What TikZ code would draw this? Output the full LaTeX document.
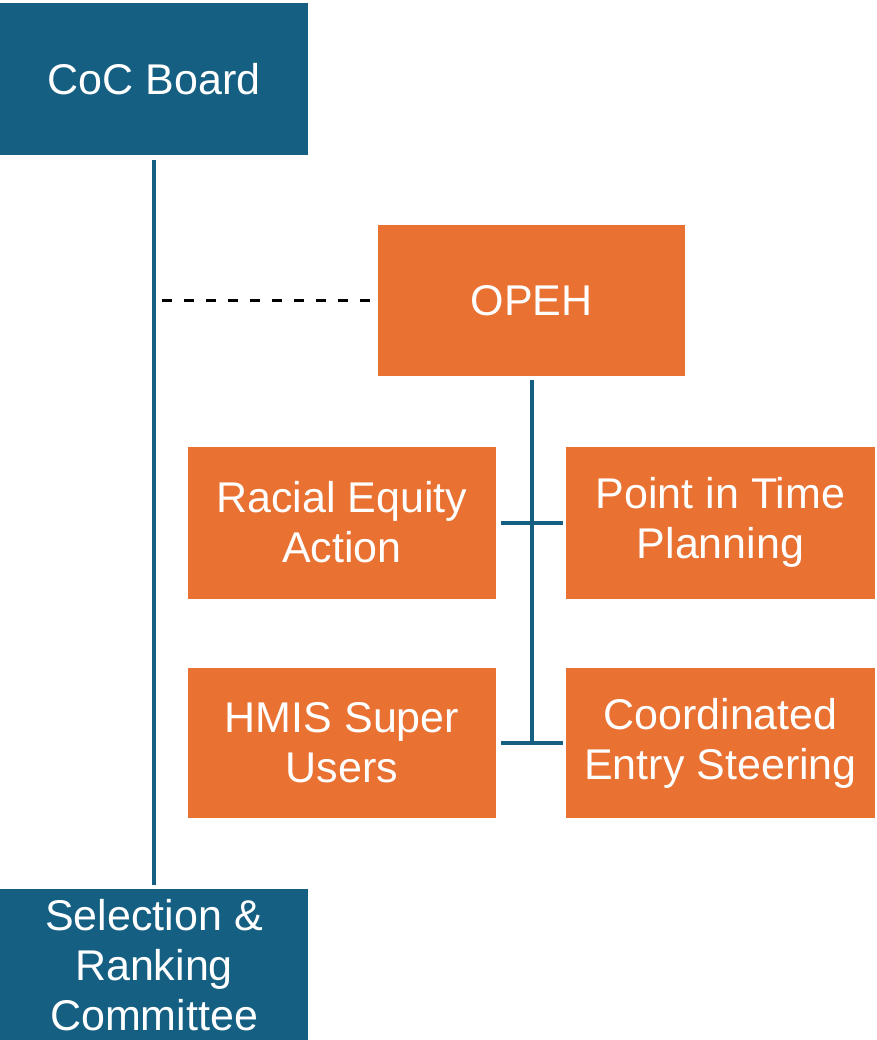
\documentclass[tikz,border=0pt]{standalone}
\usepackage{fontspec}
\setmainfont{Liberation Sans}
\definecolor{teal1}{HTML}{156082}
\definecolor{orange1}{HTML}{E97132}
\begin{document}
\begin{tikzpicture}[x=1pt,y=-1pt,
  box/.style={rectangle, inner sep=0pt, minimum width=308pt, minimum height=152pt,
    text=white, align=center, font=\fontsize{43}{50}\selectfont},
  darkbox/.style={box, fill=teal1},
  orbox/.style={box, fill=orange1},
  tline/.style={draw=teal1, line width=4pt},
  dline/.style={draw=black, line width=3pt, dash pattern=on 10pt off 12pt}]
\useasboundingbox (0,0) rectangle (876,1040);
\node[darkbox] (coc) at (154,79) {CoC Board};
\node[orbox, minimum width=307pt, minimum height=151pt] (opeh) at (531.5,300.5) {OPEH};
\node[orbox] (rea) at (342,522.5) {Racial Equity\\Action};
\node[orbox, minimum width=309pt] (pit) at (720.5,522.5) {Point in Time\\Planning};
\node[orbox, minimum height=150pt] (hmis) at (342,743) {HMIS Super\\Users};
\node[orbox, minimum width=309pt, minimum height=150pt] (ces) at (720.5,743) {Coordinated\\Entry Steering};
\node[darkbox] (sel) at (154,965) {Selection \&\\Ranking\\Committee};
% main vertical line
\draw[tline, shorten <=5pt, shorten >=4pt] (coc.south) -- (sel.north);
% dashed link
\coordinate (dj) at (coc.south |- opeh.west);
\draw[dline, shorten <=8pt, shorten >=8pt] (dj) -- (opeh.west);
% OPEH stem
\coordinate (oj) at ([yshift=2pt]opeh.south |- hmis.east);
\draw[tline, shorten <=4pt] (opeh.south) -- (oj);
\draw[tline, shorten <=5pt, shorten >=3pt] (rea.east) -- (pit.west);
\draw[tline, shorten <=5pt, shorten >=3pt] (hmis.east) -- (ces.west);
\end{tikzpicture}
\end{document}
